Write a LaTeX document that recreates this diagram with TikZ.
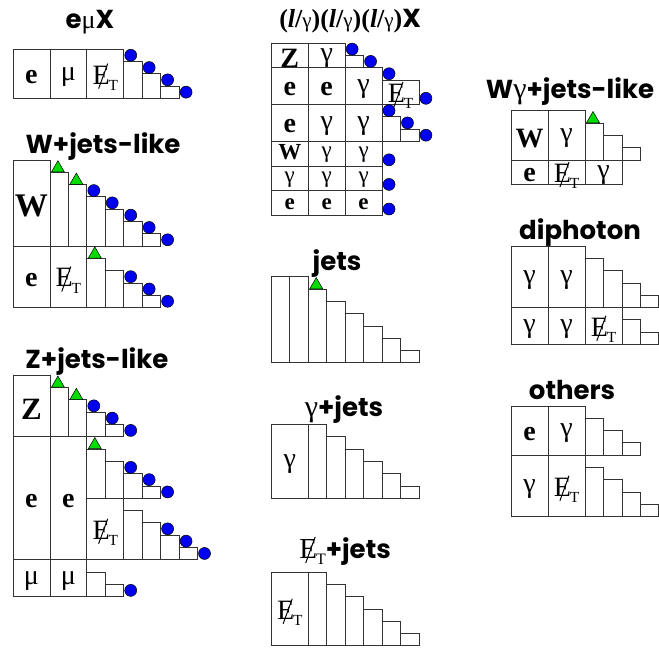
\documentclass[tikz,border=0pt]{standalone}
\usepackage{fontspec}
\setmainfont{Liberation Serif}
\newfontfamily\titlefont{Poppins}
\usetikzlibrary{shapes.geometric}

\definecolor{jetgreen}{RGB}{0,220,0}
\definecolor{lepblue}{RGB}{0,0,240}

% missing E_T
\newcommand\MET{\makebox[0pt][l]{\kern0.2em\raisebox{-0.17em}{\rotatebox{70}{\rule{0.95em}{0.035em}}}}E\kern-0.04em\raisebox{-0.22em}{\scalebox{0.55}{T}}}
\newcommand\tg{{\rmfamily\mdseries\fontsize{30}{30}\selectfont γ}}
\newcommand\lgam{{\rmfamily\bfseries(\textit{l}/{\mdseries\fontsize{21}{21}\selectfont γ})}}

% name, x, top, width, height, text
\newcommand\cellbox[6]{%
  \draw[box] (#2,#3) rectangle ++(#4,-#5);
  \node[lbl] (#1) at (#2+#4/2,#3-#5/2) {#6};}
% x, baseline, heights
\newcommand\stairs[3]{%
  \foreach \h [count=\i from 0] in {#3} \draw[box] (#1+\i,#2) rectangle ++(1,\h);}

\tikzset{
  box/.style={draw=black!80, line width=0.8pt},
  lbl/.style={font=\fontsize{28}{30}\selectfont, inner sep=0pt, yshift=-3pt},
  ttl/.style={font=\titlefont\bfseries\fontsize{26}{28}\selectfont, anchor=base, inner sep=0pt},
  ball/.style={circle, draw=black, line width=0.5pt, fill=lepblue, minimum size=12pt,
    inner sep=0pt, anchor=south, xshift=7pt},
  tri/.style={regular polygon, regular polygon sides=3, draw=black, line width=0.5pt,
    fill=jetgreen, minimum size=15pt, inner sep=0pt, anchor=south, xshift=8pt}
}

\begin{document}
\begin{tikzpicture}[x=18.45pt,y=12.3pt]
\useasboundingbox (-0.705,0) rectangle (35.01,-52.85);

% e mu X
\begin{scope}[shift={(0,-4)}]
  \node[ttl] (emx) at (4.17,1.72) {e{\rmfamily\mdseries μ}X};
  \cellbox{emx-e}{0}{0}{2}{4}{\textbf{e}}
  \cellbox{emx-mu}{2}{0}{2}{4}{μ}
  \cellbox{emx-met}{4}{0}{2}{4}{\MET}
  \stairs{6}{-4}{3,2,1}
  \foreach \x/\y [count=\k] in {6/-1,7/-2,8/-3,9/-4} \node[ball] (emx-b\k) at (\x,\y) {};
\end{scope}

% W+jets-like
\begin{scope}[shift={(0,-13)}]
  \node[ttl] (wj) at (4.88,0.56) {W+jets-like};
  \cellbox{wj-w}{0}{0}{2}{7}{{\fontsize{33}{33}\selectfont\textbf{W}}}
  \stairs{2}{-7}{6,5,4,3,2,1}
  \cellbox{wj-e}{0}{-7}{2}{5}{\textbf{e}}
  \cellbox{wj-met}{2}{-7}{2}{5}{\MET}
  \stairs{4}{-12}{4,3,2,1}
  \foreach \x/\y [count=\k] in {2/-1,3/-2,4/-8} \node[tri] (wj-t\k) at (\x,\y) {};
  \foreach \x/\y [count=\k] in {4/-3,5/-4,6/-5,7/-6,8/-7,6/-10,7/-11,8/-12}
    \node[ball] (wj-b\k) at (\x,\y) {};
\end{scope}

% Z+jets-like
\begin{scope}[shift={(0,-30.5)}]
  \node[ttl] (zj) at (4.55,0.58) {Z+jets-like};
  \cellbox{zj-z}{0}{0}{2}{5}{{\fontsize{31}{31}\selectfont\textbf{Z}}}
  \stairs{2}{-5}{4,3,2,1}
  \cellbox{zj-e1}{0}{-5}{2}{10}{\textbf{e}}
  \cellbox{zj-e2}{2}{-5}{2}{10}{\textbf{e}}
  \stairs{4}{-10}{4,3,2,1}
  \cellbox{zj-met}{4}{-10}{2}{5}{\MET}
  \stairs{6}{-15}{4,3,2,1}
  \cellbox{zj-mu1}{0}{-15}{2}{3}{μ}
  \cellbox{zj-mu2}{2}{-15}{2}{3}{μ}
  \stairs{4}{-18}{2,1}
  \foreach \x/\y [count=\k] in {2/-1,3/-2,4/-6} \node[tri] (zj-t\k) at (\x,\y) {};
  \foreach \x/\y [count=\k] in {4/-3,5/-4,6/-5,6/-8,7/-9,8/-10,8/-13,9/-14,10/-15,6/-18}
    \node[ball] (zj-b\k) at (\x,\y) {};
\end{scope}

% (l/gamma)(l/gamma)(l/gamma)X
\begin{scope}[shift={(14,-3.5)}]
  \node[ttl] (lg) at (4.27,1.3) {\lgam\lgam\lgam X};
  \cellbox{lg-z}{0}{0}{2}{2}{\textbf{Z}}
  \cellbox{lg-g1}{2}{0}{2}{2}{γ}
  \stairs{4}{-2}{1}
  \cellbox{lg-e1}{0}{-2}{2}{3}{\textbf{e}}
  \cellbox{lg-e2}{2}{-2}{2}{3}{\textbf{e}}
  \cellbox{lg-g2}{4}{-2}{2}{3}{γ}
  \cellbox{lg-met}{6}{-3}{2}{2}{\MET}
  \cellbox{lg-e3}{0}{-5}{2}{3}{\textbf{e}}
  \cellbox{lg-g3}{2}{-5}{2}{3}{γ}
  \cellbox{lg-g4}{4}{-5}{2}{3}{γ}
  \stairs{6}{-8}{2,1}
  \begin{scope}[lbl/.append style={font=\fontsize{23}{25}\selectfont, yshift=2pt}]
  \begin{scope}[lbl/.append style={yshift=3pt}]
  \cellbox{lg-w}{0}{-8}{2}{2}{\textbf{W}}
  \end{scope}
  \cellbox{lg-g5}{2}{-8}{2}{2}{γ}
  \cellbox{lg-g6}{4}{-8}{2}{2}{γ}
  \cellbox{lg-g7}{0}{-10}{2}{2}{γ}
  \cellbox{lg-g8}{2}{-10}{2}{2}{γ}
  \cellbox{lg-g9}{4}{-10}{2}{2}{γ}
  \cellbox{lg-e4}{0}{-12}{2}{2}{\textbf{e}}
  \cellbox{lg-e5}{2}{-12}{2}{2}{\textbf{e}}
  \cellbox{lg-e6}{4}{-12}{2}{2}{\textbf{e}}
  \end{scope}
  \foreach \x/\y [count=\k] in {4/-1,5/-2,6/-3,8/-5,6/-6,7/-7,8/-8,6/-10,6/-12,6/-14}
    \node[ball] (lg-b\k) at (\x,\y) {};
\end{scope}

% jets
\begin{scope}[shift={(14,-22.5)}]
  \stairs{0}{-7}{7,7,6,5,4,3,2,1}
  \node[tri] (jets-t1) at (2,-1) {};
  \node[ttl] (jets) at (3.56,0.55) {jets};
\end{scope}

% gamma+jets
\begin{scope}[shift={(14,-34.5)}]
  \node[ttl] (gj) at (3.94,0.68) {\tg+jets};
  \cellbox{gj-g}{0}{0}{2}{6}{γ}
  \stairs{2}{-6}{6,5,4,3,2,1}
\end{scope}

% MET+jets
\begin{scope}[shift={(14,-46.5)}]
  \node[ttl] (mj) at (4.0,1.13) {{\rmfamily\mdseries\fontsize{29}{29}\selectfont\MET}+jets};
  \cellbox{mj-met}{0}{0}{2}{6}{\MET}
  \stairs{2}{-6}{6,5,4,3,2,1}
\end{scope}

% W gamma+jets-like
\begin{scope}[shift={(27,-9)}]
  \node[ttl] (wgj) at (3.19,1.03) {W\tg+jets-like};
  \cellbox{wgj-w}{0}{0}{2}{4}{\textbf{W}}
  \cellbox{wgj-g1}{2}{0}{2}{4}{γ}
  \stairs{4}{-4}{3,2,1}
  \cellbox{wgj-e}{0}{-4}{2}{2}{\textbf{e}}
  \cellbox{wgj-met}{2}{-4}{2}{2}{\MET}
  \cellbox{wgj-g2}{4}{-4}{2}{2}{γ}
  \node[tri] (wgj-t1) at (4,-1) {};
\end{scope}

% diphoton
\begin{scope}[shift={(27,-20)}]
  \node[ttl] (dip) at (3.73,0.57) {diphoton};
  \cellbox{dip-g1}{0}{0}{2}{5}{γ}
  \cellbox{dip-g2}{2}{0}{2}{5}{γ}
  \stairs{4}{-5}{4,3,2,1}
  \cellbox{dip-g3}{0}{-5}{2}{3}{γ}
  \cellbox{dip-g4}{2}{-5}{2}{3}{γ}
  \cellbox{dip-met}{4}{-5}{2}{3}{\MET}
  \stairs{6}{-8}{2,1}
\end{scope}

% others
\begin{scope}[shift={(27,-33)}]
  \node[ttl] (oth) at (3.3,0.56) {others};
  \cellbox{oth-e}{0}{0}{2}{4}{\textbf{e}}
  \cellbox{oth-g1}{2}{0}{2}{4}{γ}
  \stairs{4}{-4}{3,2,1}
  \cellbox{oth-g2}{0}{-4}{2}{5}{γ}
  \cellbox{oth-met}{2}{-4}{2}{5}{\MET}
  \stairs{4}{-9}{4,3,2,1}
\end{scope}
\end{tikzpicture}
\end{document}
